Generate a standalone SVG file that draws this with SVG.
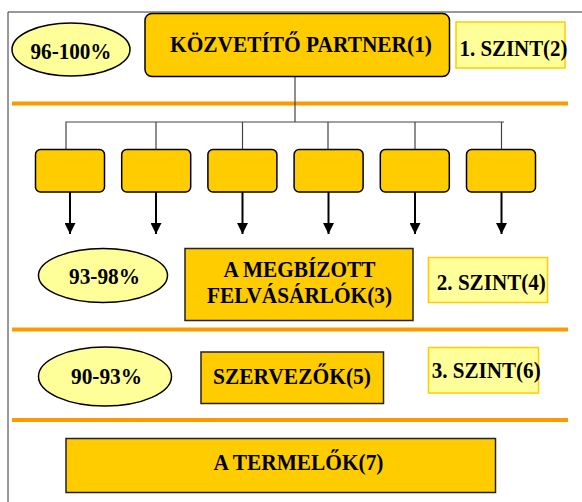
<svg xmlns="http://www.w3.org/2000/svg" width="582" height="502" viewBox="0 0 582 502">
<style>
  text { font-family: "Liberation Serif", "Times New Roman", serif; font-weight: bold; font-size: 24px; fill: #000; text-anchor: middle; }
  .box { fill: #FFCC00; stroke: #000; stroke-width: 1.5; }
  .rbox { fill: #FFCC00; stroke: #222; stroke-width: 1.5; }
  .pct { fill: #FFFF99; stroke: #000; stroke-width: 1.5; }
  .lvl { fill: #FFFF99; stroke: #FFCC00; stroke-width: 1.5; }
  .sep { stroke: #FF9900; stroke-width: 4; }
  .tree { stroke: #444; stroke-width: 1.2; fill: none; }
  .arr { stroke: #000; stroke-width: 2; marker-end: url(#ah); }
</style>
<defs>
  <marker id="ah" viewBox="0 0 10 10" refX="10" refY="5" markerWidth="5.5" markerHeight="5.5" markerUnits="strokeWidth" orient="auto">
    <path d="M0,0 L10,5 L0,10 Z" fill="#000"/>
  </marker>
</defs>
<rect width="582" height="502" fill="#fff"/>
<g id="frame">
  <path d="M8,502 V12 H582" fill="none" stroke="#333" stroke-width="1"/>
</g>
<g id="separators">
  <line class="sep" x1="12" y1="103.5" x2="568" y2="103.5"/>
  <line class="sep" x1="12" y1="329.5" x2="568" y2="329.5"/>
  <line class="sep" x1="12" y1="420" x2="568" y2="420"/>
</g>
<g id="connectors">
  <path class="tree" d="M295,77 V122 M66,149 V122 H504 M156,122 V149 M242.5,122 V149 M328,122 V149 M415,122 V149 M501.5,122 V149"/>
  <line class="arr" x1="70" y1="192" x2="70" y2="234"/>
  <line class="arr" x1="156" y1="192" x2="156" y2="234"/>
  <line class="arr" x1="242.5" y1="192" x2="242.5" y2="234"/>
  <line class="arr" x1="328.5" y1="192" x2="328.5" y2="234"/>
  <line class="arr" x1="415" y1="192" x2="415" y2="234"/>
  <line class="arr" x1="501.5" y1="192" x2="501.5" y2="234"/>
</g>
<g id="pct1"><ellipse class="pct" cx="71" cy="49.5" rx="59" ry="26.5"/><text x="71" y="58.5" textLength="81" lengthAdjust="spacingAndGlyphs">96-100%</text></g>
<g id="node1"><rect class="box" x="145" y="13.5" width="304.5" height="63" rx="7"/><text x="301" y="52" textLength="262" lengthAdjust="spacingAndGlyphs">KÖZVETÍTŐ PARTNER(1)</text></g>
<g id="level1"><rect class="lvl" x="456" y="22" width="109" height="46"/><text x="513.5" y="56" textLength="108" lengthAdjust="spacingAndGlyphs">1. SZINT(2)</text></g>
<g id="sub1"><rect class="box" x="35.5" y="149.5" width="69" height="42.5" rx="5"/></g>
<g id="sub2"><rect class="box" x="121.7" y="149.5" width="69" height="42.5" rx="5"/></g>
<g id="sub3"><rect class="box" x="207.9" y="149.5" width="69" height="42.5" rx="5"/></g>
<g id="sub4"><rect class="box" x="294.1" y="149.5" width="69" height="42.5" rx="5"/></g>
<g id="sub5"><rect class="box" x="380.3" y="149.5" width="69" height="42.5" rx="5"/></g>
<g id="sub6"><rect class="box" x="466.5" y="149.5" width="69" height="42.5" rx="5"/></g>
<g id="pct2"><ellipse class="pct" cx="103" cy="275.5" rx="64.5" ry="27"/><text x="104.5" y="284" textLength="71" lengthAdjust="spacingAndGlyphs">93-98%</text></g>
<g id="node3"><rect class="rbox" x="185" y="248.5" width="228" height="72"/><text x="299.5" y="277" textLength="152" lengthAdjust="spacingAndGlyphs">A MEGBÍZOTT</text><text x="299.5" y="303" textLength="185" lengthAdjust="spacingAndGlyphs">FELVÁSÁRLÓK(3)</text></g>
<g id="level2"><rect class="lvl" x="428.5" y="257.5" width="119" height="45"/><text x="491.3" y="289.5" textLength="109" lengthAdjust="spacingAndGlyphs">2. SZINT(4)</text></g>
<g id="pct3"><ellipse class="pct" cx="105" cy="376.5" rx="66.5" ry="29.5"/><text x="106.5" y="384" textLength="71" lengthAdjust="spacingAndGlyphs">90-93%</text></g>
<g id="node5"><rect class="rbox" x="201" y="352" width="182.5" height="51.5"/><text x="292" y="383.5" textLength="158" lengthAdjust="spacingAndGlyphs">SZERVEZŐK(5)</text></g>
<g id="level3"><rect class="lvl" x="428.5" y="347.5" width="110" height="45.5"/><text x="486.2" y="378" textLength="109" lengthAdjust="spacingAndGlyphs">3. SZINT(6)</text></g>
<g id="node7"><rect class="rbox" x="66" y="438.5" width="429.5" height="54"/><text x="298.5" y="470" textLength="170" lengthAdjust="spacingAndGlyphs">A TERMELŐK(7)</text></g>
</svg>
